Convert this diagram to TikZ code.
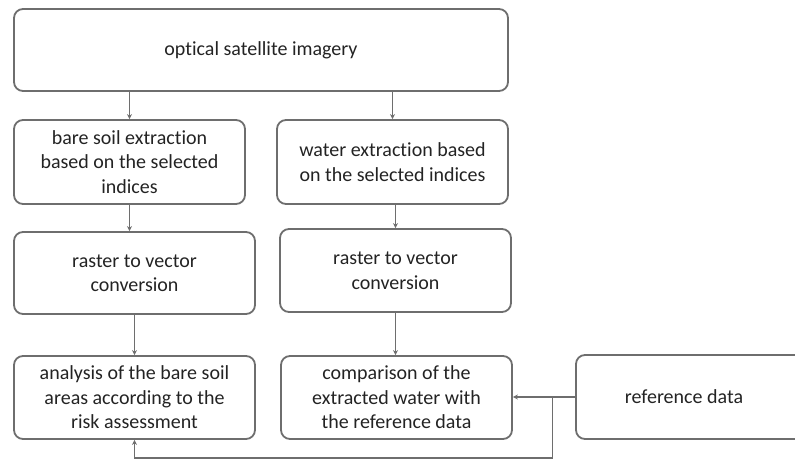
\documentclass[tikz,border=0pt]{standalone}
\usepackage{fontspec}
\setmainfont[Ligatures=NoCommon]{Carlito}
\usetikzlibrary{arrows.meta,calc}
\definecolor{edge}{RGB}{110,110,110}
\definecolor{txt}{RGB}{35,35,35}
\begin{document}
\begin{tikzpicture}[x=1pt,y=-1pt,
  box/.style={draw=edge,line width=1.8pt,rounded corners=9pt,align=center,
    text=txt,font=\fontsize{20}{24.5}\selectfont,inner sep=0pt},
  arr/.style={draw=edge,line width=1.3pt,-{Stealth[length=5pt,width=5pt]}}]
\useasboundingbox (0,0) rectangle (795,460);
\node[box,minimum width=494pt,minimum height=82pt] (top) at (261,50) {optical satellite imagery};
\node[box,minimum width=231pt,minimum height=84pt] (b1) at (129.5,162) {bare soil extraction\\based on the selected\\indices};
\node[box,minimum width=231pt,minimum height=84pt] (b2) at (392.5,162) {water extraction based\\on the selected indices};
\node[box,minimum width=241pt,minimum height=82pt] (b3) at (134.5,273) {raster to vector\\conversion};
\node[box,minimum width=231pt,minimum height=83pt] (b4) at (395.5,270.5) {raster to vector\\conversion};
\node[box,minimum width=241pt,minimum height=83pt] (b5) at (134.5,397.5) {analysis of the bare soil\\areas according to the\\risk assessment};
\node[box,minimum width=231pt,minimum height=83pt] (b6) at (396.5,397.5) {comparison of the\\extracted water with\\the reference data};
\node[box,minimum width=240pt,minimum height=84pt] (ref) at (696,397) {};
\node[text=txt,font=\fontsize{20}{24.5}\selectfont] (reft) at (684,397) {reference data};
\draw[arr] (top.south -| b1) -- (b1.north);
\draw[arr] (top.south -| b2) -- (b2.north);
\draw[arr] (b1.south) -- (b1.south |- b3.north);
\draw[arr] (b2.south -| b4) -- (b4.north);
\draw[arr] (b3.south) -- (b5.north);
\draw[arr] (b4.south) -- (b4.south |- b6.north);
\draw[arr] (ref.west) -- (ref.west -| b6.east);
\coordinate (j) at (552.5,397);
\coordinate (k) at (552.5,458);
\draw[arr] (j) -- (k) -| (b5.south);
\end{tikzpicture}
\end{document}
